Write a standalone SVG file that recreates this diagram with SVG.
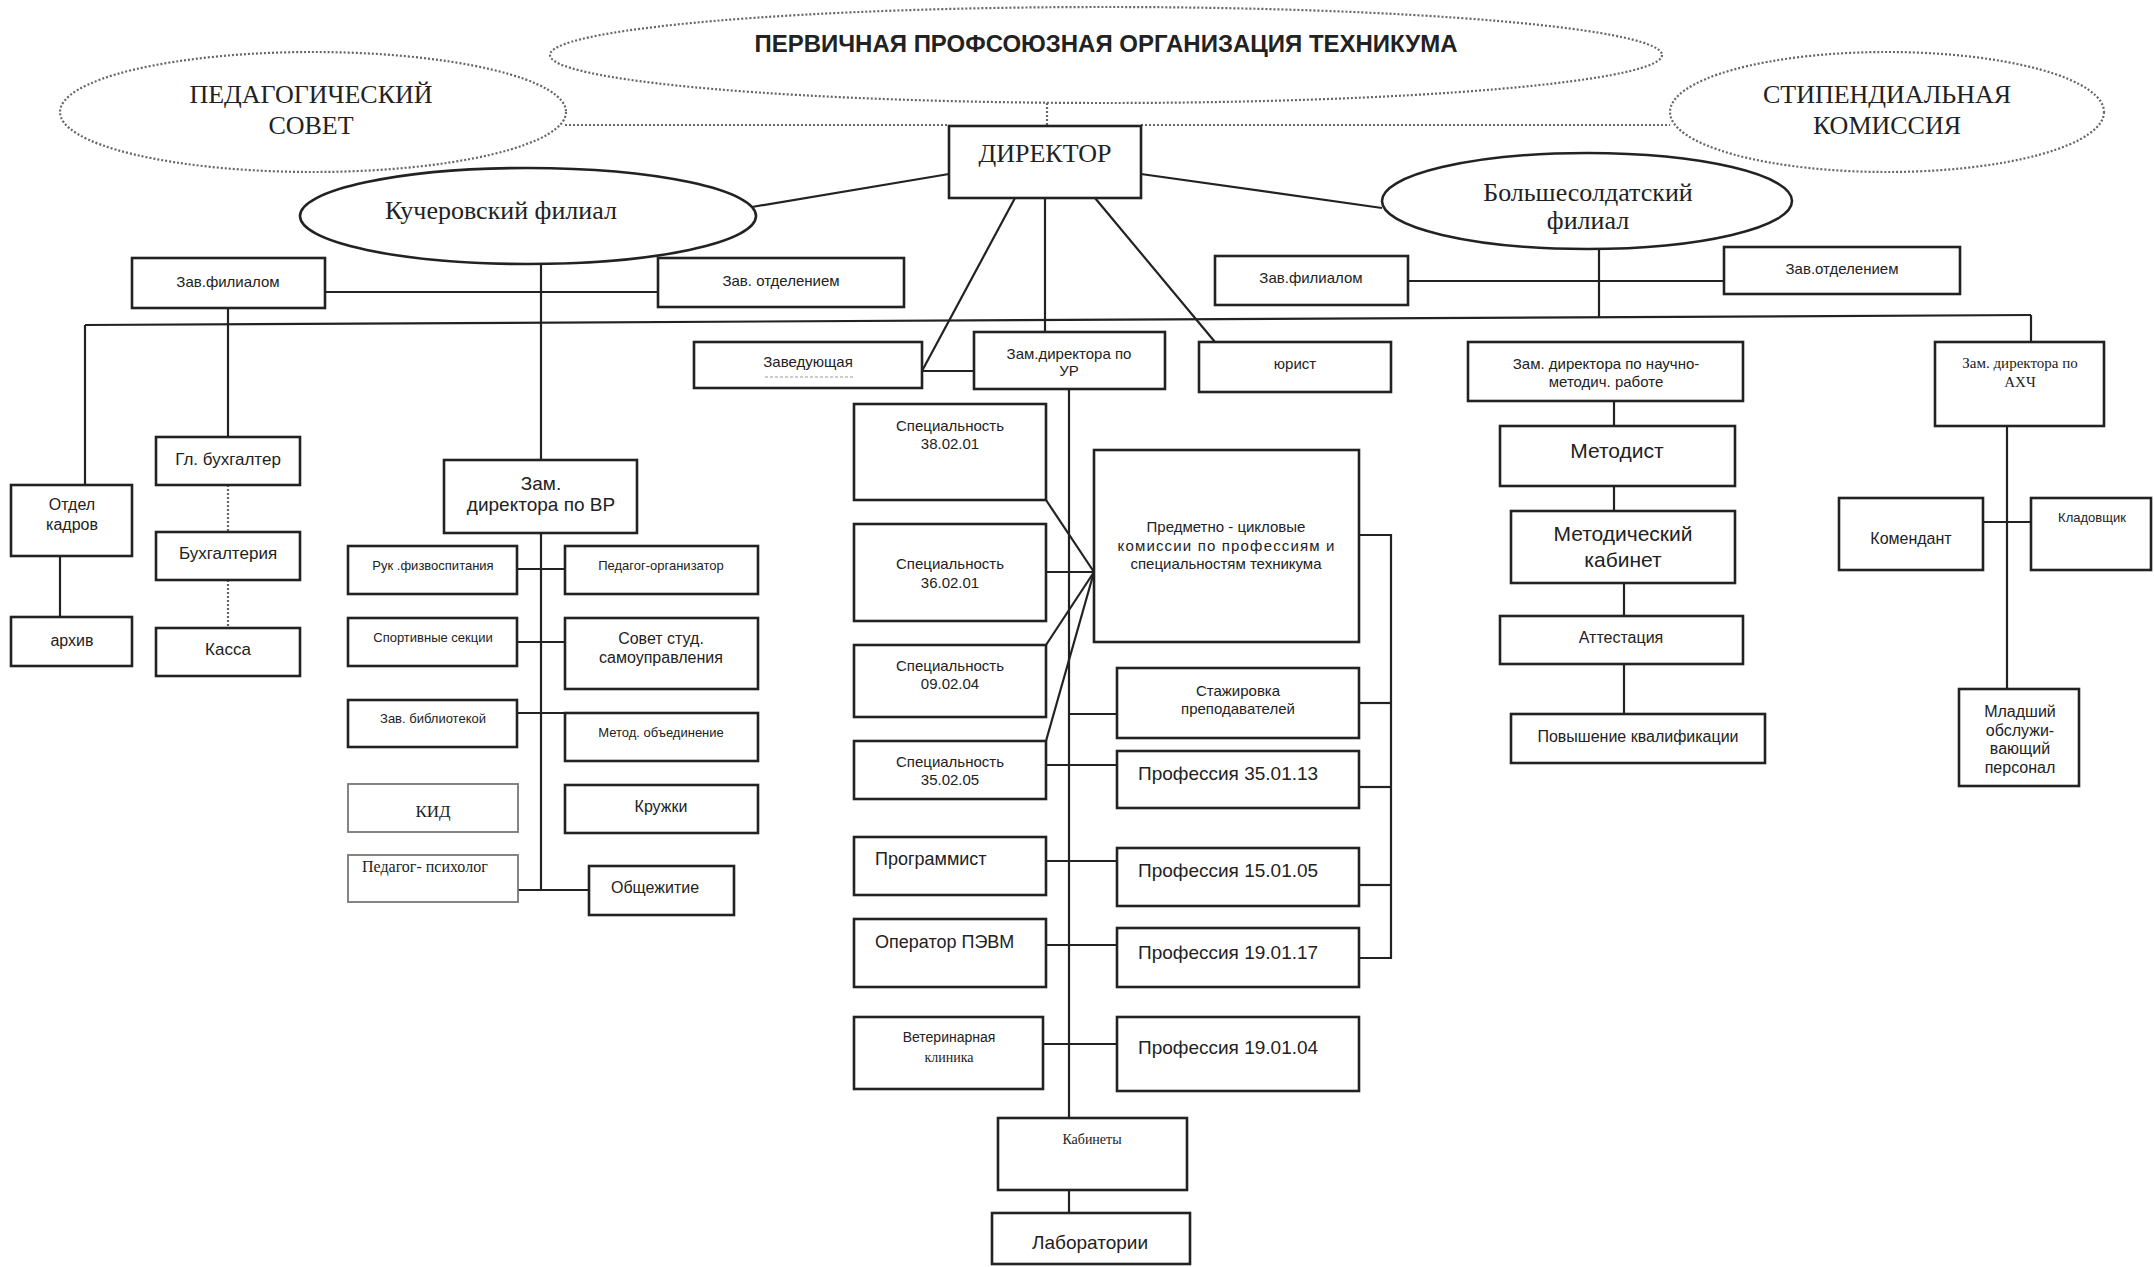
<svg xmlns="http://www.w3.org/2000/svg" width="2154" height="1267" viewBox="0 0 2154 1267">
<style>
.bg{fill:#fff}
.box{fill:#fff;stroke:#222;stroke-width:2.6}
.lbox{fill:#fff;stroke:#777;stroke-width:1.8}
.ell{fill:#fff;stroke:#222;stroke-width:2.6}
.dell{fill:#fff;stroke:#666;stroke-width:2.2;stroke-dasharray:2 2}
.ln{stroke:#222;stroke-width:2.2;fill:none}
.dln{stroke:#666;stroke-width:2.2;stroke-dasharray:2 2;fill:none}
.t{font-family:"Liberation Sans",Arial,sans-serif;fill:#222;text-anchor:middle;dominant-baseline:central}
.s{font-family:"Liberation Serif","Times New Roman",serif;fill:#222;text-anchor:middle;dominant-baseline:central}
.l{text-anchor:start}
</style>
<rect class="bg" x="0" y="0" width="2154" height="1267"/>

<g id="connectors">
  <line class="dln" x1="1047" y1="103" x2="1047" y2="126"/>
  <line class="dln" x1="565" y1="125" x2="949" y2="125"/>
  <line class="dln" x1="1141" y1="125" x2="1670" y2="125"/>
  <line class="ln" x1="949" y1="174" x2="752" y2="207"/>
  <line class="ln" x1="1141" y1="174" x2="1382" y2="208"/>
  <line class="ln" x1="1015" y1="198" x2="922" y2="371"/>
  <line class="ln" x1="1045" y1="198" x2="1045" y2="332"/>
  <line class="ln" x1="1095" y1="198" x2="1215" y2="342"/>
  <line class="ln" x1="922" y1="371" x2="974" y2="371"/>
  <line class="ln" x1="541" y1="263" x2="541" y2="460"/>
  <line class="ln" x1="325" y1="292" x2="658" y2="292"/>
  <line class="ln" x1="228" y1="308" x2="228" y2="437"/>
  <line class="ln" x1="85" y1="325" x2="2031" y2="315"/>
  <line class="ln" x1="85" y1="325" x2="85" y2="485"/>
  <line class="ln" x1="2031" y1="315" x2="2031" y2="342"/>
  <line class="ln" x1="1599" y1="249" x2="1599" y2="317"/>
  <line class="ln" x1="1408" y1="281" x2="1724" y2="281"/>
  <line class="ln" x1="60" y1="556" x2="60" y2="617"/>
  <line class="dln" x1="228" y1="485" x2="228" y2="532"/>
  <line class="dln" x1="228" y1="580" x2="228" y2="628"/>
  <line class="ln" x1="541" y1="533" x2="541" y2="890"/>
  <line class="ln" x1="517" y1="569" x2="565" y2="569"/>
  <line class="ln" x1="517" y1="642" x2="565" y2="642"/>
  <line class="ln" x1="517" y1="713" x2="565" y2="713"/>
  <line class="ln" x1="518" y1="890" x2="589" y2="890"/>
  <line class="ln" x1="1069" y1="389" x2="1069" y2="1118"/>
  <line class="ln" x1="1046" y1="500" x2="1094" y2="572"/>
  <line class="ln" x1="1046" y1="572" x2="1094" y2="572"/>
  <line class="ln" x1="1046" y1="645" x2="1094" y2="572"/>
  <line class="ln" x1="1046" y1="741" x2="1094" y2="572"/>
  <line class="ln" x1="1069" y1="714" x2="1117" y2="714"/>
  <line class="ln" x1="1046" y1="765" x2="1117" y2="765"/>
  <line class="ln" x1="1046" y1="861" x2="1117" y2="861"/>
  <line class="ln" x1="1046" y1="945" x2="1117" y2="945"/>
  <line class="ln" x1="1043" y1="1044" x2="1117" y2="1044"/>
  <polyline class="ln" points="1359,535 1391,535 1391,958 1359,958"/>
  <line class="ln" x1="1359" y1="703" x2="1391" y2="703"/>
  <line class="ln" x1="1359" y1="787" x2="1391" y2="787"/>
  <line class="ln" x1="1359" y1="885" x2="1391" y2="885"/>
  <line class="ln" x1="1069" y1="1190" x2="1069" y2="1213"/>
  <line class="ln" x1="1614" y1="401" x2="1614" y2="426"/>
  <line class="ln" x1="1614" y1="486" x2="1614" y2="511"/>
  <line class="ln" x1="1624" y1="583" x2="1624" y2="616"/>
  <line class="ln" x1="1624" y1="664" x2="1624" y2="714"/>
  <line class="ln" x1="2007" y1="426" x2="2007" y2="689"/>
  <line class="ln" x1="1983" y1="522" x2="2031" y2="522"/>
</g>

<g id="profsoyuz">
  <ellipse class="dell" cx="1106" cy="55" rx="556" ry="48"/>
  <text class="t" x="1106" y="43" font-size="24" font-weight="bold" textLength="703" lengthAdjust="spacingAndGlyphs">ПЕРВИЧНАЯ ПРОФСОЮЗНАЯ ОРГАНИЗАЦИЯ ТЕХНИКУМА</text>
</g>
<g id="pedsovet">
  <ellipse class="dell" cx="313" cy="112" rx="253" ry="60"/>
  <text class="s" x="311" y="94" font-size="26">ПЕДАГОГИЧЕСКИЙ</text>
  <text class="s" x="311" y="125" font-size="26">СОВЕТ</text>
</g>
<g id="stipkom">
  <ellipse class="dell" cx="1887" cy="112" rx="217" ry="60"/>
  <text class="s" x="1887" y="94" font-size="26">СТИПЕНДИАЛЬНАЯ</text>
  <text class="s" x="1887" y="125" font-size="26">КОМИССИЯ</text>
</g>
<g id="director">
  <rect class="box" x="949" y="126" width="192" height="72"/>
  <text class="s" x="1045" y="153" font-size="26">ДИРЕКТОР</text>
</g>
<g id="kuch">
  <ellipse class="ell" cx="528" cy="216" rx="228" ry="48"/>
  <text class="s" x="501" y="210" font-size="26">Кучеровский филиал</text>
</g>
<g id="bolsh">
  <ellipse class="ell" cx="1587" cy="201" rx="205" ry="48"/>
  <text class="s" x="1588" y="192" font-size="26">Большесолдатский</text>
  <text class="s" x="1588" y="220" font-size="26">филиал</text>
</g>

<g id="kuch-zavfil">
  <rect class="box" x="132" y="258" width="193" height="50"/>
  <text class="t" x="228" y="281" font-size="15">Зав.филиалом</text>
</g>
<g id="kuch-zavotd">
  <rect class="box" x="658" y="258" width="246" height="49"/>
  <text class="t" x="781" y="280" font-size="15">Зав. отделением</text>
</g>
<g id="otdel-kadrov">
  <rect class="box" x="11" y="485" width="121" height="71"/>
  <text class="t" x="72" y="504" font-size="16">Отдел</text>
  <text class="t" x="72" y="524" font-size="16">кадров</text>
</g>
<g id="arhiv">
  <rect class="box" x="11" y="617" width="121" height="49"/>
  <text class="t" x="72" y="640" font-size="16">архив</text>
</g>
<g id="glbuh">
  <rect class="box" x="156" y="437" width="144" height="48"/>
  <text class="t" x="228" y="459" font-size="17">Гл. бухгалтер</text>
</g>
<g id="buh">
  <rect class="box" x="156" y="532" width="144" height="48"/>
  <text class="t" x="228" y="553" font-size="17">Бухгалтерия</text>
</g>
<g id="kassa">
  <rect class="box" x="156" y="628" width="144" height="48"/>
  <text class="t" x="228" y="649" font-size="17">Касса</text>
</g>
<g id="zam-vr">
  <rect class="box" x="444" y="460" width="193" height="73"/>
  <text class="t" x="541" y="483" font-size="19">Зам.</text>
  <text class="t" x="541" y="504" font-size="19">директора по ВР</text>
</g>
<g id="fizvosp">
  <rect class="box" x="348" y="546" width="169" height="48"/>
  <text class="t" x="433" y="565" font-size="13">Рук .физвоспитания</text>
</g>
<g id="pedorg">
  <rect class="box" x="565" y="546" width="193" height="48"/>
  <text class="t" x="661" y="565" font-size="13">Педагог-организатор</text>
</g>
<g id="sport">
  <rect class="box" x="348" y="618" width="169" height="48"/>
  <text class="t" x="433" y="637" font-size="13">Спортивные секции</text>
</g>
<g id="sovet-stud">
  <rect class="box" x="565" y="618" width="193" height="71"/>
  <text class="t" x="661" y="638" font-size="16">Совет студ.</text>
  <text class="t" x="661" y="657" font-size="16">самоуправления</text>
</g>
<g id="biblio">
  <rect class="box" x="348" y="700" width="169" height="47"/>
  <text class="t" x="433" y="718" font-size="13">Зав. библиотекой</text>
</g>
<g id="metod-ob">
  <rect class="box" x="565" y="713" width="193" height="48"/>
  <text class="t" x="661" y="732" font-size="13">Метод. объединение</text>
</g>
<g id="kid">
  <rect class="lbox" x="348" y="784" width="170" height="48"/>
  <text class="s" x="433" y="811" font-size="17">КИД</text>
</g>
<g id="kruzhki">
  <rect class="box" x="565" y="785" width="193" height="48"/>
  <text class="t" x="661" y="806" font-size="16">Кружки</text>
</g>
<g id="psiholog">
  <rect class="lbox" x="348" y="855" width="170" height="47"/>
  <text class="s l" x="362" y="866" font-size="16">Педагог- психолог</text>
</g>
<g id="obshezhitie">
  <rect class="box" x="589" y="866" width="145" height="49"/>
  <text class="t" x="655" y="887" font-size="16">Общежитие</text>
</g>

<g id="zaveduyushaya">
  <rect class="box" x="694" y="342" width="228" height="46"/>
  <text class="t" x="808" y="361" font-size="15">Заведующая</text>
  <line x1="765" y1="377" x2="854" y2="377" stroke="#999" stroke-width="1.2" stroke-dasharray="3 2"/>
</g>
<g id="zam-ur">
  <rect class="box" x="974" y="332" width="191" height="57"/>
  <text class="t" x="1069" y="353" font-size="15">Зам.директора по</text>
  <text class="t" x="1069" y="370" font-size="15">УР</text>
</g>
<g id="yurist">
  <rect class="box" x="1199" y="342" width="192" height="50"/>
  <text class="t" x="1295" y="363" font-size="15">юрист</text>
</g>
<g id="spec-380201">
  <rect class="box" x="854" y="404" width="192" height="96"/>
  <text class="t" x="950" y="425" font-size="15">Специальность</text>
  <text class="t" x="950" y="443" font-size="15">38.02.01</text>
</g>
<g id="spec-360201">
  <rect class="box" x="854" y="524" width="192" height="97"/>
  <text class="t" x="950" y="563" font-size="15">Специальность</text>
  <text class="t" x="950" y="582" font-size="15">36.02.01</text>
</g>
<g id="spec-090204">
  <rect class="box" x="854" y="645" width="192" height="72"/>
  <text class="t" x="950" y="665" font-size="15">Специальность</text>
  <text class="t" x="950" y="683" font-size="15">09.02.04</text>
</g>
<g id="spec-350205">
  <rect class="box" x="854" y="741" width="192" height="58"/>
  <text class="t" x="950" y="761" font-size="15">Специальность</text>
  <text class="t" x="950" y="779" font-size="15">35.02.05</text>
</g>
<g id="programmist">
  <rect class="box" x="854" y="837" width="192" height="58"/>
  <text class="t l" x="875" y="859" font-size="18">Программист</text>
</g>
<g id="operator">
  <rect class="box" x="854" y="919" width="192" height="68"/>
  <text class="t l" x="875" y="942" font-size="18">Оператор ПЭВМ</text>
</g>
<g id="vetklinika">
  <rect class="box" x="854" y="1017" width="189" height="72"/>
  <text class="t" x="949" y="1037" font-size="14">Ветеринарная</text>
  <text class="s" x="949" y="1057" font-size="14">клиника</text>
</g>
<g id="pck">
  <rect class="box" x="1094" y="450" width="265" height="192"/>
  <text class="t" x="1226" y="526" font-size="15">Предметно - цикловые</text>
  <text class="t" x="1226" y="545" font-size="15" textLength="217" lengthAdjust="spacing">комиссии  по  профессиям  и</text>
  <text class="t" x="1226" y="563" font-size="15">специальностям техникума</text>
</g>
<g id="stazhirovka">
  <rect class="box" x="1117" y="668" width="242" height="70"/>
  <text class="t" x="1238" y="690" font-size="15">Стажировка</text>
  <text class="t" x="1238" y="708" font-size="15">преподавателей</text>
</g>
<g id="prof-350113">
  <rect class="box" x="1117" y="751" width="242" height="57"/>
  <text class="t l" x="1138" y="773" font-size="19">Профессия 35.01.13</text>
</g>
<g id="prof-150105">
  <rect class="box" x="1117" y="848" width="242" height="58"/>
  <text class="t l" x="1138" y="870" font-size="19">Профессия 15.01.05</text>
</g>
<g id="prof-190117">
  <rect class="box" x="1117" y="928" width="242" height="59"/>
  <text class="t l" x="1138" y="952" font-size="19">Профессия 19.01.17</text>
</g>
<g id="prof-190104">
  <rect class="box" x="1117" y="1017" width="242" height="74"/>
  <text class="t l" x="1138" y="1047" font-size="19">Профессия 19.01.04</text>
</g>
<g id="kabinety">
  <rect class="box" x="998" y="1118" width="189" height="72"/>
  <text class="s" x="1092" y="1139" font-size="14">Кабинеты</text>
</g>
<g id="laboratorii">
  <rect class="box" x="992" y="1213" width="198" height="51"/>
  <text class="t" x="1090" y="1242" font-size="19">Лаборатории</text>
</g>

<g id="bolsh-zavfil">
  <rect class="box" x="1215" y="256" width="193" height="49"/>
  <text class="t" x="1311" y="277" font-size="15">Зав.филиалом</text>
</g>
<g id="bolsh-zavotd">
  <rect class="box" x="1724" y="247" width="236" height="47"/>
  <text class="t" x="1842" y="268" font-size="15">Зав.отделением</text>
</g>
<g id="zam-nmr">
  <rect class="box" x="1468" y="342" width="275" height="59"/>
  <text class="t" x="1606" y="363" font-size="15">Зам. директора по научно-</text>
  <text class="t" x="1606" y="381" font-size="15">методич. работе</text>
</g>
<g id="metodist">
  <rect class="box" x="1500" y="426" width="235" height="60"/>
  <text class="t" x="1617" y="450" font-size="21">Методист</text>
</g>
<g id="metod-kab">
  <rect class="box" x="1511" y="511" width="224" height="72"/>
  <text class="t" x="1623" y="533" font-size="21">Методический</text>
  <text class="t" x="1623" y="559" font-size="21">кабинет</text>
</g>
<g id="attestaciya">
  <rect class="box" x="1500" y="616" width="243" height="48"/>
  <text class="t" x="1621" y="637" font-size="16">Аттестация</text>
</g>
<g id="povyshenie">
  <rect class="box" x="1511" y="714" width="254" height="49"/>
  <text class="t" x="1638" y="736" font-size="16">Повышение квалификации</text>
</g>
<g id="zam-ahch">
  <rect class="box" x="1935" y="342" width="169" height="84"/>
  <text class="s" x="2020" y="363" font-size="15">Зам. директора по</text>
  <text class="s" x="2020" y="382" font-size="15">АХЧ</text>
</g>
<g id="komendant">
  <rect class="box" x="1839" y="498" width="144" height="72"/>
  <text class="t" x="1911" y="538" font-size="16">Комендант</text>
</g>
<g id="kladovshik">
  <rect class="box" x="2031" y="498" width="120" height="72"/>
  <text class="t" x="2092" y="517" font-size="13">Кладовщик</text>
</g>
<g id="mladshiy">
  <rect class="box" x="1959" y="689" width="120" height="97"/>
  <text class="t" x="2020" y="711" font-size="16">Младший</text>
  <text class="t" x="2020" y="730" font-size="16">обслужи-</text>
  <text class="t" x="2020" y="748" font-size="16">вающий</text>
  <text class="t" x="2020" y="767" font-size="16">персонал</text>
</g>
</svg>
